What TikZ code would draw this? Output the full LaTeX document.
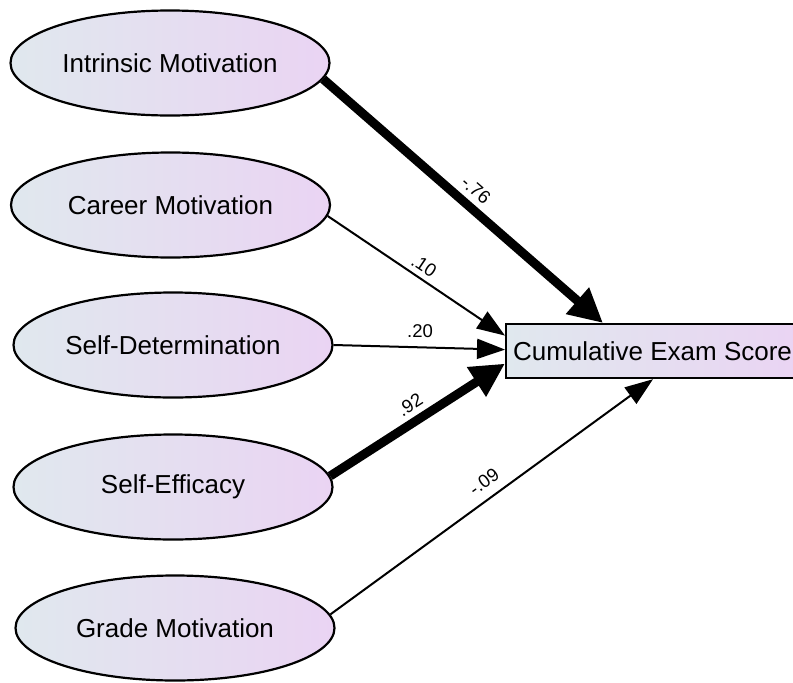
\documentclass[tikz,border=0pt]{standalone}
\usepackage{fontspec}
\setmainfont{Liberation Sans}
\usetikzlibrary{shapes.geometric,arrows.meta}
\definecolor{gl}{RGB}{224,232,238}
\definecolor{gr}{RGB}{234,212,243}
\begin{document}
\begin{tikzpicture}[x=1pt,y=-1pt,
  latent/.style={ellipse, draw=black, line width=2.2pt, left color=gl, right color=gr,
    minimum width=319pt, minimum height=105pt, inner sep=0pt,
    font=\fontsize{26}{30}\selectfont},
  obsbox/.style={rectangle, draw=black, line width=2.2pt, left color=gl, right color=gr,
    minimum height=54pt, inner xsep=7pt, inner ysep=0pt, anchor=north west,
    font=\fontsize{26}{30}\selectfont},
  thinarrow/.style={line width=2pt, -{Triangle[length=28pt,width=20pt]}},
  thickarrow/.style={line width=9pt, -{Triangle[length=34pt,width=33pt]}},
  lbl/.style={inner sep=0pt, font=\fontsize{18.5}{22}\selectfont}]
\useasboundingbox (0,0) rectangle (793,683);

\node[latent] (im) at (170,63) {Intrinsic Motivation};
\node[latent] (cm) at (170.5,205) {Career Motivation};
\node[latent] (sd) at (173,345) {Self-Determination};
\node[latent] (se) at (173,487) {Self-Efficacy};
\node[latent] (gm) at (175,628) {Grade Motivation};

\node[obsbox] (cum) at (505,323) {Cumulative Exam Score};

\draw[thickarrow] (im.-6.4) -- ([xshift=98pt]cum.north west);
\draw[thinarrow] (cm.-4.7) -- ([yshift=15.5pt]cum.west);
\draw[thinarrow] (sd.east) -- ([yshift=1.5pt]cum.west);
\draw[thickarrow] (se.4.4) -- ([yshift=-12.5pt]cum.west);
\draw[thinarrow] (gm.5.1) -- ([xshift=148pt]cum.south west);

\node[lbl, rotate=-41] (l1) at (476,190) {-.76};
\node[lbl, rotate=-34] (l2) at (424,266) {.10};
\node[lbl] (l3) at (420,331) {.20};
\node[lbl, rotate=32.5] (l4) at (410,405) {.92};
\node[lbl, rotate=36] (l5) at (484,482) {-.09};
\end{tikzpicture}
\end{document}
